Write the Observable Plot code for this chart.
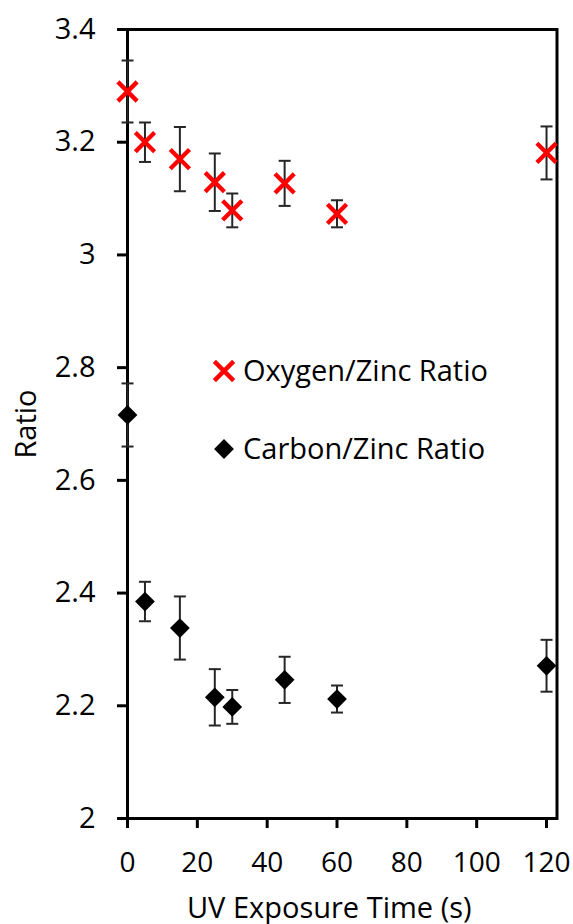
<!DOCTYPE html>
<html>
<head>
<meta charset="utf-8">
<script src="https://cdn.jsdelivr.net/npm/d3@7"></script>
<script src="https://cdn.jsdelivr.net/npm/@observablehq/plot@0.6"></script>
<style>
  body { margin: 0; background: #fff; }
  #wrap { position: relative; width: 573px; height: 924px; font-family: "Open Sans", sans-serif; }
  #legend { position: absolute; left: 0; top: 0; pointer-events: none; }
</style>
</head>
<body>
<div id="wrap"></div>
<script>
// ---- data ----
const times = [0, 5, 15, 25, 30, 45, 60, 120];
const oxygenRatio = [3.290, 3.200, 3.170, 3.129, 3.079, 3.127, 3.073, 3.181];
const oxygenError = [0.055, 0.035, 0.057, 0.051, 0.030, 0.040, 0.024, 0.047];
const carbonRatio = [2.716, 2.385, 2.338, 2.215, 2.198, 2.246, 2.212, 2.271];
const carbonError = [0.056, 0.035, 0.056, 0.050, 0.030, 0.041, 0.024, 0.046];
const seriesNames = ["Oxygen/Zinc Ratio", "Carbon/Zinc Ratio"];
const xTicks = [0, 20, 40, 60, 80, 100, 120];
const yTicks = [2, 2.2, 2.4, 2.6, 2.8, 3, 3.2, 3.4];
const xTitle = "UV Exposure Time (s)";
const yTitle = "Ratio";

const oxygenRows = times.map((t, i) => ({series: seriesNames[0], t, value: oxygenRatio[i], err: oxygenError[i]}));
const carbonRows = times.map((t, i) => ({series: seriesNames[1], t, value: carbonRatio[i], err: carbonError[i]}));
const allRows = oxygenRows.concat(carbonRows);

const FONT = "Open Sans, sans-serif";
const FS = 28;
const FS_TITLE = 29;
const errColor = "#262626";

// horizontal cap symbol for error bars
const capSymbol = {draw(ctx) { ctx.moveTo(-6, 0); ctx.lineTo(6, 0); }};

const chart = Plot.plot({
  width: 573,
  height: 924,
  marginLeft: 127,
  marginRight: 16.5,
  marginTop: 29,
  marginBottom: 106,
  style: {fontFamily: FONT, fontSize: FS + "px", color: "#000", background: "#fff"},
  x: {domain: [0, 123]},
  y: {domain: [2, 3.4]},
  marks: [
    Plot.frame({stroke: "#000", strokeWidth: 3}),
    Plot.axisY({
      ticks: yTicks, tickSize: 10, tickPadding: 22, strokeWidth: 3,
      tickFormat: d => String(+d.toFixed(1)),
      label: yTitle, labelAnchor: "center", labelOffset: 112, labelArrow: "none",
      fontSize: FS_TITLE
    }),
    Plot.axisX({
      ticks: xTicks, tickSize: 10, tickPadding: 24, strokeWidth: 3,
      tickFormat: d => String(d),
      label: null
    }),
    // x-axis title (Excel centres it slightly left of the plot-area centre)
    Plot.text([xTitle], {
      frameAnchor: "bottom", dy: 99, dx: -13, lineAnchor: "bottom",
      text: d => d, fontSize: FS_TITLE, fill: "#000"
    }),
    Plot.ruleX(allRows, {x: "t", y1: d => d.value - d.err, y2: d => d.value + d.err, stroke: errColor, strokeWidth: 2}),
    Plot.dot(allRows, {x: "t", y: d => d.value + d.err, symbol: capSymbol, stroke: errColor, strokeWidth: 2, r: 4}),
    Plot.dot(allRows, {x: "t", y: d => d.value - d.err, symbol: capSymbol, stroke: errColor, strokeWidth: 2, r: 4}),
    Plot.dot(oxygenRows, {x: "t", y: "value", symbol: "times", stroke: "#ff0000", strokeWidth: 4.3, r: 8.8}),
    Plot.dot(carbonRows, {x: "t", y: "value", symbol: "diamond2", fill: "#000", stroke: "none", r: 8.9})
  ]
});

const wrap = document.getElementById("wrap");
wrap.appendChild(chart);

// ---- legend (inside plot area) ----
const legendItems = [
  {name: seriesNames[0], symbol: d3.symbolTimes, fill: "none", stroke: "#ff0000", sw: 4.3, size: Math.PI * 8.8 * 8.8, cx: 224, cy: 371},
  {name: seriesNames[1], symbol: d3.symbolDiamond2, fill: "#000", stroke: "none", sw: 0, size: Math.PI * 8.9 * 8.9, cx: 224, cy: 449}
];
const leg = d3.select(wrap).append("svg")
  .attr("id", "legend").attr("width", 573).attr("height", 924)
  .style("font-family", FONT).style("font-size", FS_TITLE + "px");
const g = leg.selectAll("g").data(legendItems).join("g")
  .attr("transform", d => `translate(${d.cx},${d.cy})`);
g.append("path")
  .attr("d", d => d3.symbol(d.symbol, d.size)())
  .attr("fill", d => d.fill).attr("stroke", d => d.stroke).attr("stroke-width", d => d.sw);
g.append("text")
  .attr("x", 19).attr("y", 0).attr("dy", "0.35em")
  .attr("fill", "#000")
  .text(d => d.name);
</script>
</body>
</html>
